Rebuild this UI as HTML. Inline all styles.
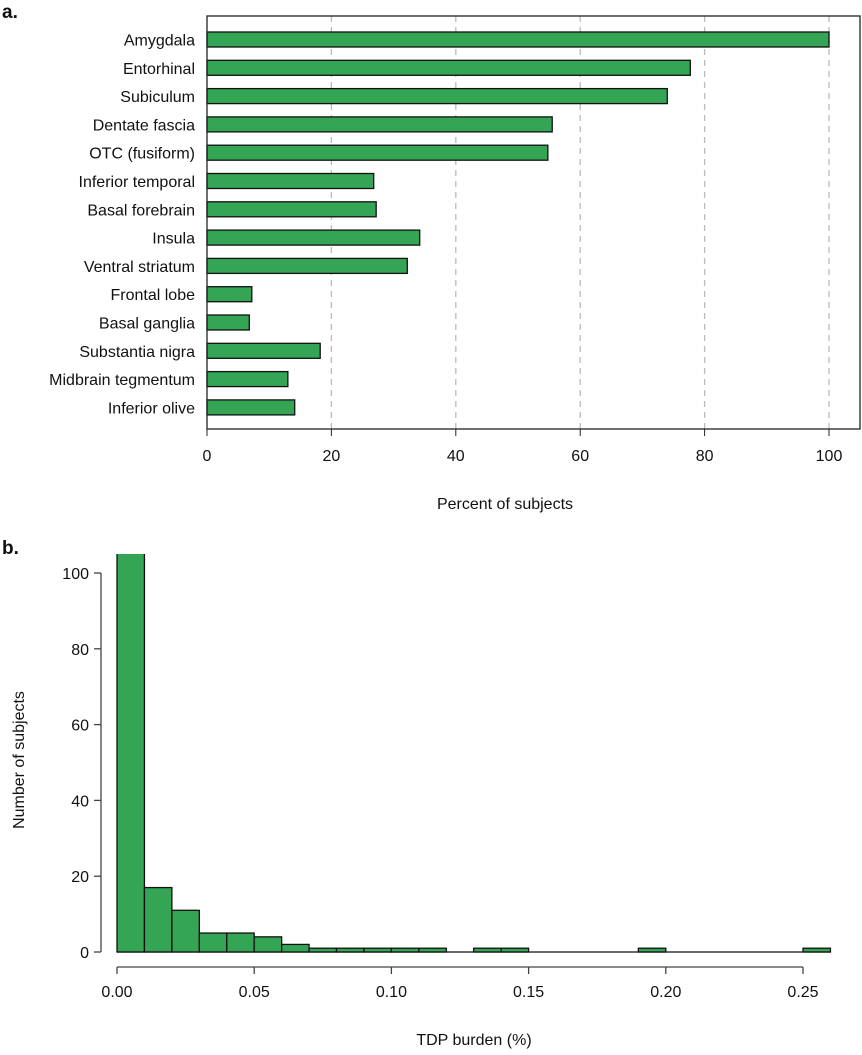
<!DOCTYPE html>
<html><head><meta charset="utf-8"><style>
body{margin:0;background:#fff;}
svg text{font-family:"Liberation Sans",Arial,sans-serif;fill:#111;}
</style></head><body>
<svg id="chart" width="862" height="1050" xmlns="http://www.w3.org/2000/svg">
<text x="2" y="18" font-size="19" font-weight="bold">a.</text>
<text x="2" y="554" font-size="19" font-weight="bold">b.</text>
<g id="pa"></g>
<g id="pb"></g>
</svg>
<script>
const regions=["Amygdala","Entorhinal","Subiculum","Dentate fascia","OTC (fusiform)","Inferior temporal","Basal forebrain","Insula","Ventral striatum","Frontal lobe","Basal ganglia","Substantia nigra","Midbrain tegmentum","Inferior olive"];
const percents=[100,77.7,74,55.5,54.8,26.8,27.2,34.2,32.2,7.2,6.8,18.2,13,14.1];
const aTicks=[0,20,40,60,80,100];
const binStarts=[0,0.01,0.02,0.03,0.04,0.05,0.06,0.07,0.08,0.09,0.10,0.11,0.12,0.13,0.14,0.15,0.16,0.17,0.18,0.19,0.20,0.21,0.22,0.23,0.24,0.25];
const counts=[140,17,11,5,5,4,2,1,1,1,1,1,0,1,1,0,0,0,0,1,0,0,0,0,0,1];
const binWidth=0.01;
const bxTicks=[0,0.05,0.10,0.15,0.20,0.25];
const bxTickLabels=["0.00","0.05","0.10","0.15","0.20","0.25"];
const byTicks=[0,20,40,60,80,100];

const NS="http://www.w3.org/2000/svg";
function mk(parent,tag,attrs){const e=document.createElementNS(NS,tag);for(const k in attrs)e.setAttribute(k,attrs[k]);parent.appendChild(e);return e;}
const GREEN="#33a555";
// Panel a
const pa=document.getElementById('pa');
const ax=v=>207+v*6.22;
const ay=i=>39.5+i*28.3;
for(const t of aTicks){
  if(t>0){const l=mk(pa,'line',{x1:ax(t),x2:ax(t),y1:16,y2:429,stroke:'#bbb','stroke-width':1.3,'stroke-dasharray':'6,5'});
  
  }
  const tk=mk(pa,'line',{x1:ax(t),x2:ax(t),y1:429,y2:436,stroke:'#222','stroke-width':1});
  
  
  const tl=mk(pa,'text',{x:ax(t),y:461,'font-size':16,'text-anchor':'middle'});tl.textContent=t;
  
  
}
percents.forEach((v,i)=>{
  const r=mk(pa,'rect',{x:ax(0),y:ay(i)-7.5,width:ax(v)-ax(0),height:15,fill:GREEN,stroke:'#111','stroke-width':1.3});
  
  
  const t=mk(pa,'text',{x:195,y:ay(i)+6,'font-size':16,'text-anchor':'end'});t.textContent=regions[i];
  
  
});
const box=mk(pa,'rect',{x:207,y:16,width:653,height:413,fill:'none',stroke:'#222','stroke-width':1.3});


const at=mk(pa,'text',{x:505,y:509,'font-size':16,'text-anchor':'middle'});at.textContent="Percent of subjects";



// Panel b
const pb=document.getElementById('pb');
const bx=v=>117+v*2744;
const by=v=>952-v*3.79;
const cp=mk(pb,'clipPath',{id:'clipb'});mk(cp,'rect',{x:0,y:554,width:862,height:500});
const bars=mk(pb,'g',{'clip-path':'url(#clipb)'});


const base=mk(bars,'line',{x1:bx(binStarts[0]),x2:bx(binStarts[binStarts.length-1]+binWidth),y1:by(0),y2:by(0),stroke:'#111','stroke-width':1.3});


binStarts.forEach((s,i)=>{
  if(counts[i]<=0)return;
  const r=mk(bars,'rect',{x:bx(s),y:by(counts[i]),width:bx(s+binWidth)-bx(s),height:by(0)-by(counts[i]),fill:GREEN,stroke:'#111','stroke-width':1.3});
  
  
});
const xl=mk(pb,'line',{x1:bx(0),x2:bx(0.25),y1:967,y2:967,stroke:'#444','stroke-width':1.3});


bxTicks.forEach((t,i)=>{
  const tk=mk(pb,'line',{x1:bx(t),x2:bx(t),y1:967,y2:974,stroke:'#444','stroke-width':1.3});
  
  
  const tl=mk(pb,'text',{x:bx(t),y:997,'font-size':16,'text-anchor':'middle'});tl.textContent=bxTickLabels[i];
  
  
});
const yl=mk(pb,'line',{x1:101,x2:101,y1:by(0),y2:by(100),stroke:'#444','stroke-width':1.3});


byTicks.forEach(t=>{
  const tk=mk(pb,'line',{x1:94,x2:101,y1:by(t),y2:by(t),stroke:'#444','stroke-width':1.3});
  
  
  const tl=mk(pb,'text',{x:89,y:by(t)+6,'font-size':16,'text-anchor':'end'});tl.textContent=t;
  
  
});
const bt=mk(pb,'text',{x:474,y:1045,'font-size':16,'text-anchor':'middle'});bt.textContent="TDP burden (%)";


const yt=mk(pb,'text',{x:24,y:760,'font-size':16,'text-anchor':'middle',transform:'rotate(-90 24 760)'});yt.textContent="Number of subjects";


</script>
</body></html>
